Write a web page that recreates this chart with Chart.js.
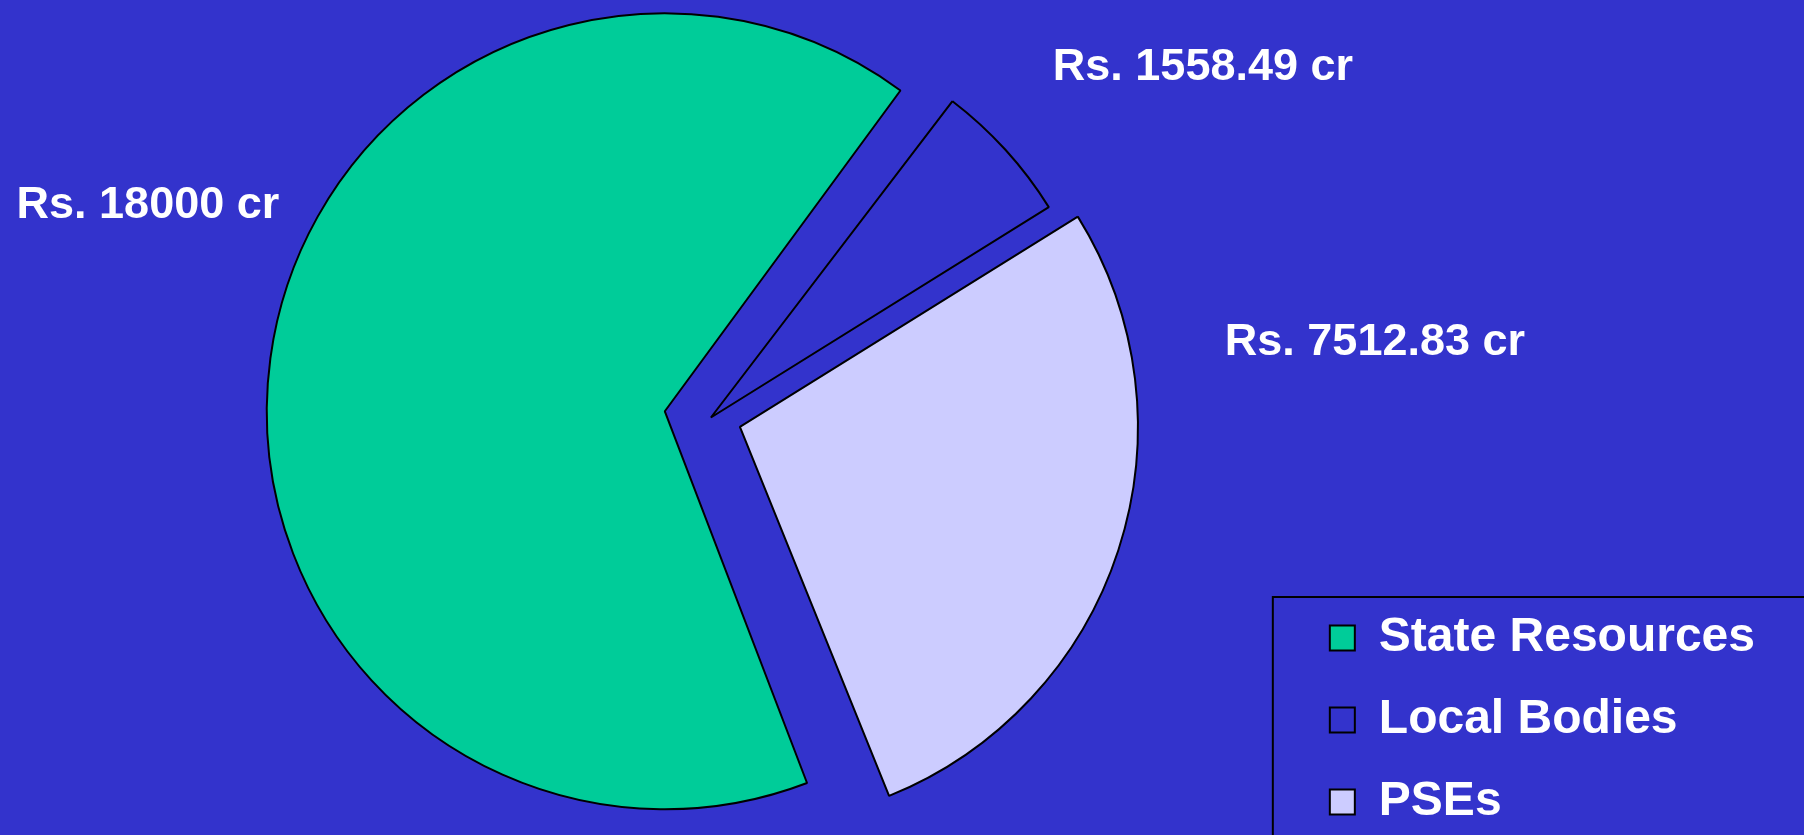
<!DOCTYPE html>
<html>
<head>
<meta charset="utf-8">
<script src="https://cdn.jsdelivr.net/npm/chart.js@4.4.1/dist/chart.umd.min.js"></script>
<style>
  html, body { margin: 0; padding: 0; background: #3333CC; overflow: hidden; }
  #wrap { width: 1804px; height: 835px; position: relative; }
</style>
</head>
<body>
<div id="wrap"><canvas id="c" width="1804" height="835"></canvas></div>
<script>
// ---- data ----
const categories = ['State Resources', 'Local Bodies', 'PSEs'];
const values = [18000, 1558.49, 7512.83];
const valueLabels = ['Rs. 18000 cr', 'Rs. 1558.49 cr', 'Rs. 7512.83 cr'];

// keep the exploded slices at the same visual radius as the others
const flatExplode = {
  id: 'flatExplode',
  afterDatasetUpdate(chart, args) {
    args.meta.data.forEach(el => {
      const off = ((el.options && el.options.offset) || 0) / 4;
      const fix = 1 - Math.sin(Math.min(Math.PI, el.circumference || 0));
      el.outerRadius = el.outerRadius - off * fix;
    });
  }
};

// free-standing value labels placed relative to the pie centre
const sliceLabels = {
  id: 'sliceLabels',
  afterDatasetsDraw(chart, args, opts) {
    const meta = chart.getDatasetMeta(0);
    if (!meta.data.length) return;
    const cx = meta.data[0].x, cy = meta.data[0].y;
    const ctx = chart.ctx;
    ctx.save();
    ctx.fillStyle = opts.color;
    ctx.font = opts.font;
    ctx.textAlign = 'center';
    ctx.textBaseline = 'alphabetic';
    valueLabels.forEach((t, i) => {
      const o = opts.offsets[i];
      ctx.fillText(t, cx + o[0], cy + o[1]);
    });
    ctx.restore();
  }
};

// frame round the legend
const legendFrame = {
  id: 'legendFrame',
  afterDraw(chart, args, opts) {
    const lg = chart.legend;
    if (!lg || !lg.legendHitBoxes || !lg.legendHitBoxes.length) return;
    const hb = lg.legendHitBoxes[0];
    const ctx = chart.ctx;
    const x = lg.left - opts.gapX, y = hb.top - opts.gapY;
    ctx.save();
    ctx.strokeStyle = '#000000';
    ctx.lineWidth = 2;
    ctx.beginPath();
    ctx.moveTo(x, chart.height + 5);
    ctx.lineTo(x, y);
    ctx.lineTo(chart.width + 5, y);
    ctx.stroke();
    ctx.restore();
  }
};

Chart.defaults.font.family = "'Liberation Sans', Arial, sans-serif";

new Chart(document.getElementById('c'), {
  type: 'pie',
  data: {
    labels: categories,
    datasets: [{
      data: values,
      backgroundColor: ['#00CC99', '#3333CC', '#CCCCFF'],
      borderColor: '#000000',
      borderWidth: 2,
      offset: [186, 0, 122],
      hoverOffset: 0
    }]
  },
  options: {
    responsive: false,
    animation: false,
    events: [],
    rotation: 158,
    radius: 398,
    layout: { padding: { left: 126, right: 39, top: -30, bottom: -25 } },
    plugins: {
      tooltip: { enabled: false },
      legend: {
        position: 'right',
        align: 'end',
        labels: {
          color: '#FFFFFF',
          font: { size: 48, weight: 'bold' },
          boxWidth: 25,
          boxHeight: 25,
          padding: 34
        }
      },
      sliceLabels: {
        color: '#FFFFFF',
        font: "bold 45px 'Liberation Sans', Arial, sans-serif",
        offsets: [[-563, -200], [492, -338], [664, -63]]
      },
      legendFrame: { gapX: 23, gapY: 17 }
    }
  },
  plugins: [flatExplode, sliceLabels, legendFrame]
});
</script>
</body>
</html>
